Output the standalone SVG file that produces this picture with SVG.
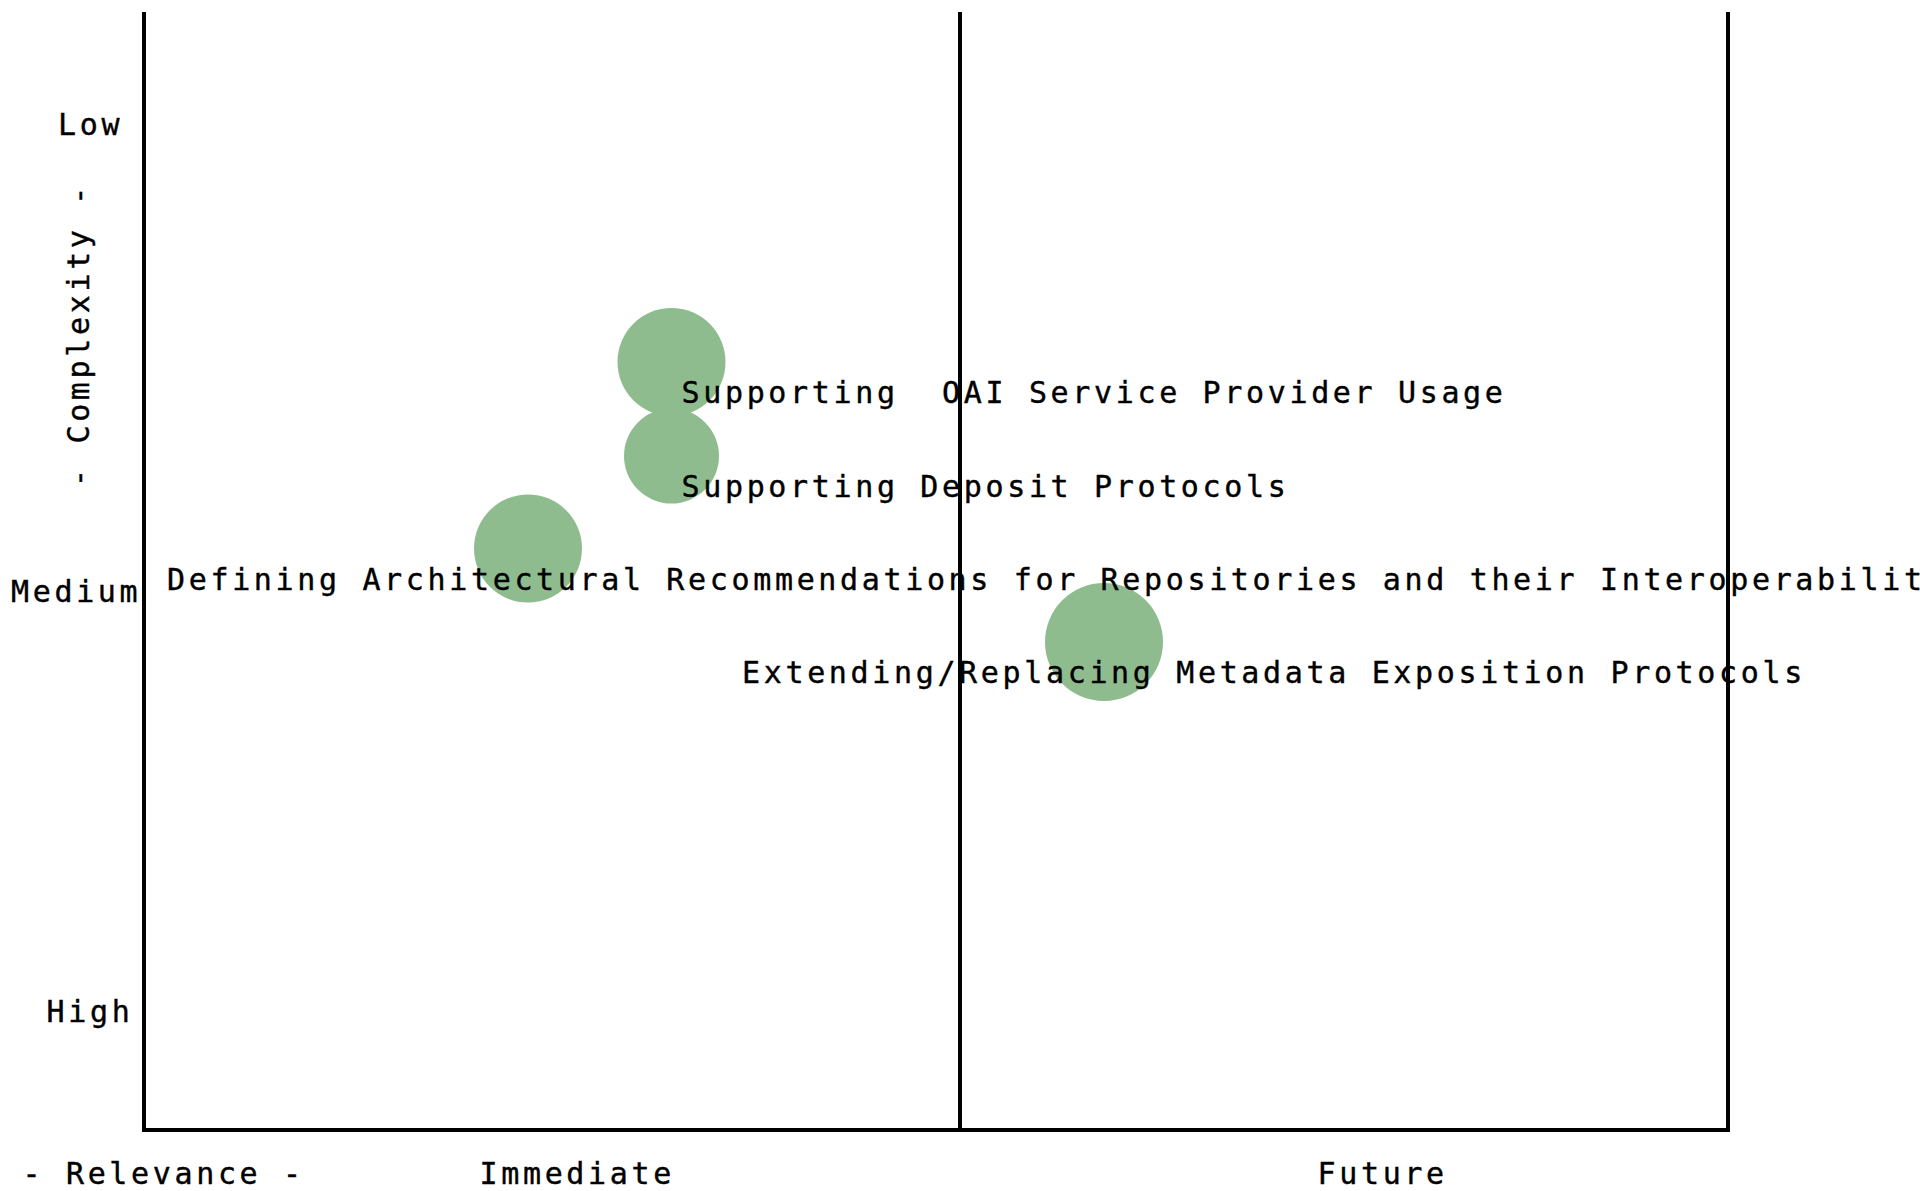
<svg xmlns="http://www.w3.org/2000/svg" width="1920" height="1191" viewBox="0 0 1920 1191">
<style>
text{font-family:"DejaVu Sans Mono","Liberation Mono",monospace;font-size:30px;letter-spacing:3.65px;fill:#000;stroke:#000;stroke-width:0.4;white-space:pre}
.bubble{fill:#8fbc8f}
.axis{fill:none;stroke:#000;stroke-width:4}
</style>
<rect width="1920" height="1191" fill="#fff"/>
<g id="axes">
<path class="axis" d="M144,12 V1130 H1728 V12 M960,12 V1130"/>
<text x="58" y="135">Low</text>
<text x="11" y="602">Medium</text>
<text x="46.5" y="1022">High</text>
<text x="88.5" y="335" text-anchor="middle" transform="rotate(-90 88.5 335)">- Complexity -</text>
<text x="22.5" y="1184">- Relevance -</text>
<text x="479.5" y="1184">Immediate</text>
<text x="1317.5" y="1184">Future</text>
</g>
<g id="node-extending">
<circle class="bubble" cx="1104" cy="642" r="59"/>
<text x="742" y="683">Extending/Replacing Metadata Exposition Protocols</text>
</g>
<g id="node-defining">
<circle class="bubble" cx="528" cy="548.5" r="54"/>
<text x="167" y="590">Defining Architectural Recommendations for Repositories and their Interoperability</text>
</g>
<g id="node-deposit">
<circle class="bubble" cx="671.5" cy="456" r="47.5"/>
<text x="681.5" y="497">Supporting Deposit Protocols</text>
</g>
<g id="node-oai">
<circle class="bubble" cx="671.5" cy="362" r="54"/>
<text x="681.5" y="403" xml:space="preserve">Supporting  OAI Service Provider Usage</text>
</g>
</svg>
